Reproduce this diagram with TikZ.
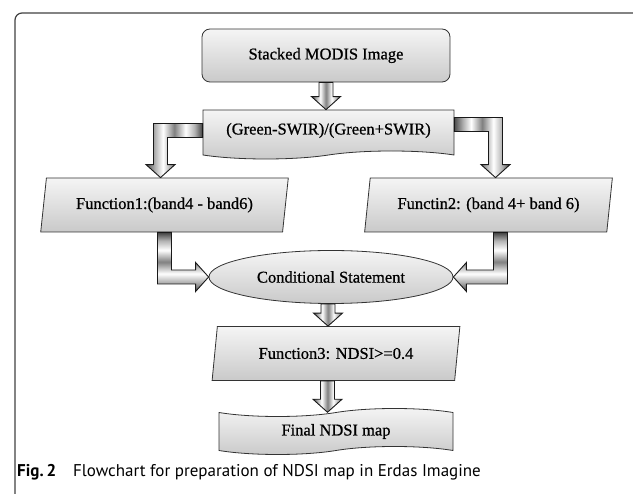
\documentclass[tikz,border=0pt]{standalone}
\usepackage{fontspec}
\setmainfont{Liberation Serif}
\newfontfamily\boxfont{Liberation Serif}[FakeBold=0.7]
\newfontfamily\capfont{PT Sans}
\usetikzlibrary{shapes.geometric,shapes.symbols,calc}

% metallic look of the block arrows
\pgfdeclarehorizontalshading{metal}{100bp}{color(0bp)=(black!70); color(25bp)=(black!70);
  color(33bp)=(black!30); color(40bp)=(white); color(50bp)=(black!50);
  color(60bp)=(white); color(68bp)=(black!30); color(75bp)=(black!75); color(100bp)=(black!75)}

\def\shaftw{7pt}\def\headw{14.5pt}\def\headl{13pt}

% straight block arrow, from #1 down to #2
\newcommand{\blockdown}[2]{%
  \path[metal arrow] let \p1=#1, \p2=#2 in
    (\x1-\shaftw,\y1) -- (\x1-\shaftw,\y2+\headl) -- (\x1-\headw,\y2+\headl)
    -- (\x1,\y2) -- (\x1+\headw,\y2+\headl) -- (\x1+\shaftw,\y2+\headl)
    -- (\x1+\shaftw,\y1) -- cycle;}
% block arrow, sideways out of #1 then down into #2
\newcommand{\blockturndown}[2]{%
  \path[metal arrow] let \p1=#1, \p2=#2, \n1={sign(\x2-\x1)} in
    (\x1,\y1+\shaftw) -- (\x2+\n1*\shaftw,\y1+\shaftw) -- (\x2+\n1*\shaftw,\y2+\headl)
    -- (\x2+\n1*\headw,\y2+\headl) -- (\x2,\y2) -- (\x2-\n1*\headw,\y2+\headl)
    -- (\x2-\n1*\shaftw,\y2+\headl) -- (\x2-\n1*\shaftw,\y1-\shaftw) -- (\x1,\y1-\shaftw) -- cycle;}
% block arrow, down out of #1 then sideways into #2
\newcommand{\blockturnin}[2]{%
  \path[metal arrow, shading angle=90] let \p1=#1, \p2=#2, \n1={sign(\x2-\x1)} in
    (\x1-\n1*\shaftw,\y1) -- (\x1-\n1*\shaftw,\y2-\shaftw) -- (\x2-\n1*\headl,\y2-\shaftw)
    -- (\x2-\n1*\headl,\y2-\headw) -- (\x2,\y2) -- (\x2-\n1*\headl,\y2+\headw)
    -- (\x2-\n1*\headl,\y2+\shaftw) -- (\x1+\n1*\shaftw,\y2+\shaftw) -- (\x1+\n1*\shaftw,\y1) -- cycle;}

\begin{document}
\begin{tikzpicture}[x=1pt, y=-1pt,
    stepbox/.style={draw=black!80, line width=0.8pt, top color=gray!8, bottom color=gray!42,
      inner sep=2pt, font=\boxfont\fontsize{16.5}{19}\selectfont},
    slanted/.style={trapezium, trapezium left angle=77, trapezium right angle=103,
      trapezium stretches=true, minimum width=248pt, minimum height=54pt},
    metal arrow/.style={draw=black!90, line width=0.9pt, shading=metal, line join=miter}]
  \useasboundingbox (0,0) rectangle (633,494);
  \clip (0,0) rectangle (633,494);

  % frame
  \draw[black!75, line width=1.2pt, rounded corners=7pt] (15,500) |- (640,13) -- (640,500);

  \node[stepbox, rectangle, rounded corners=8pt, minimum width=248pt, minimum height=53pt]
    (stack) at (326,55.5) {Stacked MODIS Image};
  \node[stepbox, tape, tape bend top=none, tape bend height=8pt, minimum width=251pt,
    minimum height=49pt] (ratio) at (328.5,130.5) {(Green-SWIR)/(Green+SWIR)};
  \node[stepbox, slanted] (fun1) at (164.5,205) {Function1:(band4 - band6)};
  \node[stepbox, slanted] (fun2) at (488.5,205) {Functin2: (band 4+ band 6)};
  \node[stepbox, ellipse, minimum width=244pt, minimum height=53pt]
    (cond) at (331,277) {Conditional Statement};
  \node[stepbox, slanted] (fun3) at (336,353.5) {Function3: NDSI>=0.4};
  \node[stepbox, tape, tape bend height=8pt, minimum width=234pt, minimum height=46pt]
    (final) at (336,431.5) {Final NDSI map};

  \blockdown{(stack.south)}{(ratio.north)}
  \blockturndown{(ratio.west)}{([xshift=-4pt]fun1.north)}
  \blockturndown{([yshift=6pt]ratio.east)}{([xshift=7pt]fun2.north)}
  \blockturnin{(fun1.south)}{(cond.west)}
  \blockturnin{([xshift=12pt]fun2.south)}{(cond.east)}
  \blockdown{([xshift=-3pt]cond.south)}{(fun3.north)}
  \blockdown{([xshift=-8.5pt]fun3.south)}{(final.north)}

  \node[anchor=base west, inner sep=0pt, font=\capfont\fontsize{17}{20}\selectfont]
    (caption) at (17,477) {\textbf{Fig.\,2}\quad Flowchart for preparation of NDSI map in Erdas Imagine};
\end{tikzpicture}
\end{document}
